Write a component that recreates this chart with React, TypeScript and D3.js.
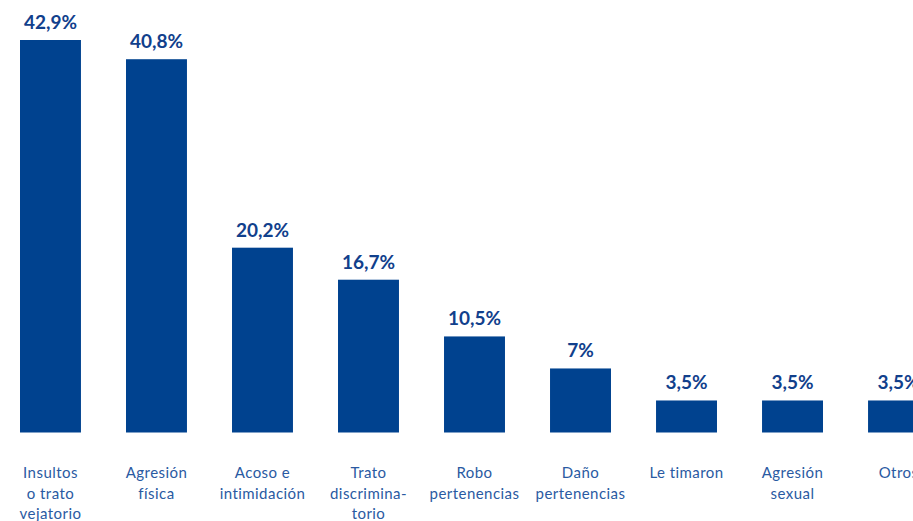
import React from "react";
import * as d3 from "d3";

const categories = [
  "Insultos o trato vejatorio",
  "Agresión física",
  "Acoso e intimidación",
  "Trato discriminatorio",
  "Robo pertenencias",
  "Daño pertenencias",
  "Le timaron",
  "Agresión sexual",
  "Otros",
];
const categoryLines = [
  ["Insultos", "o trato", "vejatorio"],
  ["Agresión", "física"],
  ["Acoso e", "intimidación"],
  ["Trato", "discrimina-", "torio"],
  ["Robo", "pertenencias"],
  ["Daño", "pertenencias"],
  ["Le timaron"],
  ["Agresión", "sexual"],
  ["Otros"],
];
const values = [42.9, 40.8, 20.2, 16.7, 10.5, 7, 3.5, 3.5, 3.5];
const valueLabels = ["42,9%", "40,8%", "20,2%", "16,7%", "10,5%", "7%", "3,5%", "3,5%", "3,5%"];

const W = 913;
const H = 521;
const BAR = "#00428f";
const VAL_TXT = "#11408c";
const CAT_TXT = "#2a5aa2";

export default function App() {
  const x = d3.scaleBand<string>().domain(categories).range([20, 929]).paddingInner(0.425).paddingOuter(0);
  const y = d3.scaleLinear().domain([0, 42.9]).range([432.5, 40]);
  return (
    <div style={{ position: "absolute", left: 0, top: 0, width: W, height: H, overflow: "hidden", background: "#fff" }}>
      <svg width={W} height={H} style={{ display: "block", fontFamily: "Lato, 'Noto Sans', sans-serif" }}>
        {categories.map((c, i) => {
          const bx = x(c)!;
          const bw = x.bandwidth();
          const cx = bx + bw / 2;
          return (
            <g key={c}>
              <rect x={bx} y={y(values[i])} width={bw} height={y(0) - y(values[i])} fill={BAR} />
              <text x={cx} y={y(values[i]) - 11} textAnchor="middle" fontSize={19} fontWeight={700} fill={VAL_TXT}>
                {valueLabels[i]}
              </text>
              <text textAnchor="middle" fontSize={15} letterSpacing={0.45} fill={CAT_TXT}>
                {categoryLines[i].map((l, j) => (
                  <tspan key={j} x={cx} y={478 + j * 20.5}>
                    {l}
                  </tspan>
                ))}
              </text>
            </g>
          );
        })}
      </svg>
    </div>
  );
}
